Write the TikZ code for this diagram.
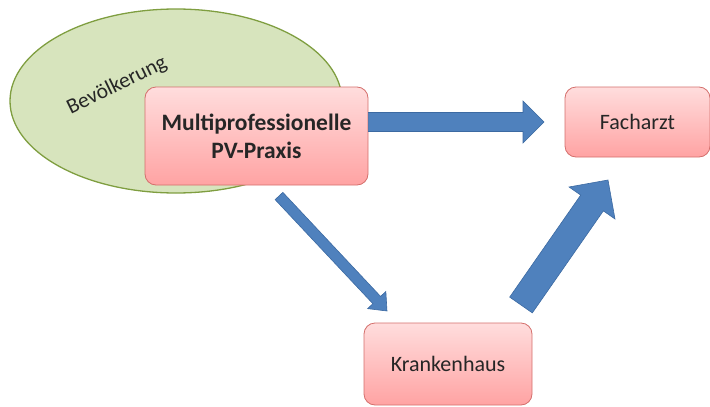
\documentclass[tikz,border=0pt]{standalone}
\usepackage{fontspec}
\setmainfont{Carlito}
\usetikzlibrary{calc,shapes.geometric}

\definecolor{popfill}{HTML}{D7E4BD}
\definecolor{popline}{HTML}{7F9E40}
\definecolor{boxtop}{HTML}{FFDDDD}
\definecolor{boxbottom}{HTML}{FFA3A3}
\definecolor{boxline}{HTML}{D46F6C}
\definecolor{arrowfill}{HTML}{4F81BD}
\definecolor{arrowline}{HTML}{3C6AA2}

\tikzset{
  carebox/.style={draw=boxline, line width=0.8pt, rounded corners=11pt,
    top color=boxtop, bottom color=boxbottom, inner sep=0pt,
    align=center, font=\fontsize{22}{28}\selectfont, text=black!85},
  blockarrow/.style={fill=arrowfill, draw=arrowline, line width=0.6pt, line join=miter},
}

% block arrow: from #1 to #2, shaft half width #3, head half width #4, head length #5
\newcommand\blockarrowpath[5]{%
  \coordinate (hb) at ($(#2)!#5!(#1)$);
  \draw[blockarrow]
    ($(#1)!#3!90:(#2)$) -- ($(hb)!#3!-90:(#1)$) -- ($(hb)!#4!-90:(#1)$) --
    (#2) -- ($(hb)!#4!90:(#1)$) -- ($(hb)!#3!90:(#1)$) --
    ($(#1)!#3!-90:(#2)$) -- cycle;
}

\begin{document}
\begin{tikzpicture}[x=1pt, y=-1pt]
  \useasboundingbox (0,0) rectangle (710,407);

  % population ellipse
  \node[ellipse, draw=popline, fill=popfill, line width=1.3pt,
        minimum width=332pt, minimum height=184pt, inner sep=0pt] (pop) at (176,101) {};
  \node[rotate=26, font=\fontsize{21.5}{24}\selectfont, text=black!85] (poplabel) at (117,86) {Bevölkerung};

  % care providers
  \node[carebox, minimum width=223pt, minimum height=98pt, font=\fontsize{23.5}{28}\selectfont\bfseries]
        (praxis) at (256.5,136) {Multiprofessionelle\\PV-Praxis};
  \node[carebox, minimum width=145pt, minimum height=70pt] (facharzt) at (637.5,122) {Facharzt};
  \node[carebox, minimum width=168pt, minimum height=82pt] (kh) at (448,364) {Krankenhaus};

  % arrow end points
  \coordinate (a1s) at (praxis.east |- 0,122);
  \coordinate (a1e) at (544,122);
  \coordinate (a2s) at (279,196);
  \coordinate (a2e) at (387,311);
  \coordinate (a3s) at (521,305);
  \coordinate (a3e) at (608,180);

  \blockarrowpath{a1s}{a1e}{9.5pt}{21pt}{21pt}
  \blockarrowpath{a2s}{a2e}{5.3pt}{12.5pt}{15pt}
  \blockarrowpath{a3s}{a3e}{13.8pt}{28pt}{28pt}
\end{tikzpicture}
\end{document}
